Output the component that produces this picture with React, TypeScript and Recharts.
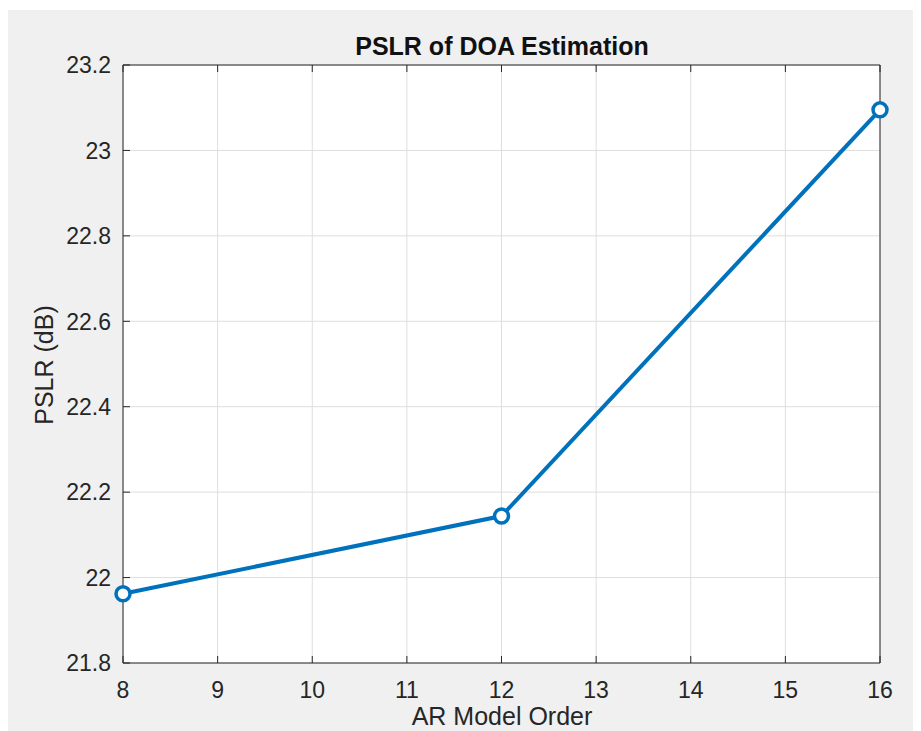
import { LineChart, Line, XAxis, YAxis, CartesianGrid } from 'recharts'

// AR model order vs PSLR (dB)
const orders = [8, 12, 16]
const pslr = [21.962, 22.144, 23.095]
const xTicks = [8, 9, 10, 11, 12, 13, 14, 15, 16]
const yTicks = [21.8, 22, 22.2, 22.4, 22.6, 22.8, 23, 23.2]

const data = orders.map((order, i) => ({ order, pslr: pslr[i] }))

const FONT = '"Liberation Sans", Arial, Helvetica, sans-serif'
const AXIS = '#262626'
const BLUE = '#0072BD'
const TICK_LEN = 7

const BottomTick = ({ x, y, payload }: any) => (
  <g>
    <line x1={x} x2={x} y1={y - 35} y2={y - 35 - TICK_LEN} stroke={AXIS} />
    <text x={x} y={y} textAnchor="middle" fill={AXIS} fontSize={23} fontFamily={FONT}>
      {payload.value}
    </text>
  </g>
)

const LeftTick = ({ x, y, payload }: any) => (
  <g>
    <line x1={x + 12} x2={x + 12 + TICK_LEN} y1={y} y2={y} stroke={AXIS} />
    <text x={x} y={y} dy="0.36em" textAnchor="end" fill={AXIS} fontSize={23} fontFamily={FONT}>
      {payload.value}
    </text>
  </g>
)

const TopTick = ({ x, y }: any) => <line x1={x} x2={x} y1={y} y2={y + TICK_LEN} stroke={AXIS} />

const RightTick = ({ x, y }: any) => <line x1={x} x2={x - TICK_LEN} y1={y} y2={y} stroke={AXIS} />

const App = () => {
  return (
    <div style={{ paddingTop: 2, background: '#fff' }}>
      <div style={{ position: 'relative', width: 913, height: 721, background: '#f0f0f0', overflow: 'hidden' }}>
        <LineChart
          width={913}
          height={721}
          data={data}
          margin={{ top: 54, right: 40, left: 15, bottom: 8 }}
        >
          <CartesianGrid stroke="#dedede" strokeWidth={1} fill="#fff" />
          <XAxis
            dataKey="order"
            type="number"
            domain={[8, 16]}
            ticks={xTicks}
            height={60}
            axisLine={{ stroke: AXIS }}
            tickLine={false}
            tickSize={0}
            tickMargin={35}
            tick={<BottomTick />}
            interval={0}
          />
          <XAxis
            xAxisId="top"
            orientation="top"
            dataKey="order"
            type="number"
            domain={[8, 16]}
            ticks={xTicks}
            height={1}
            axisLine={{ stroke: AXIS }}
            tickLine={false}
            tickSize={0}
            tickMargin={0}
            tick={<TopTick />}
            interval={0}
          />
          <YAxis
            type="number"
            domain={[21.8, 23.2]}
            ticks={yTicks}
            width={100}
            axisLine={{ stroke: AXIS }}
            tickLine={false}
            tickSize={0}
            tickMargin={12}
            tick={<LeftTick />}
            interval={0}
          />
          <YAxis
            yAxisId="right"
            orientation="right"
            type="number"
            domain={[21.8, 23.2]}
            ticks={yTicks}
            width={1}
            axisLine={{ stroke: AXIS }}
            tickLine={false}
            tickSize={0}
            tickMargin={0}
            tick={<RightTick />}
            interval={0}
          />
          <Line
            dataKey="pslr"
            type="linear"
            stroke={BLUE}
            strokeWidth={4}
            dot={{ r: 7, stroke: BLUE, strokeWidth: 3.5, fill: '#fff' }}
            activeDot={false}
            isAnimationActive={false}
          />
        </LineChart>
        <svg
          width={913}
          height={721}
          style={{ position: 'absolute', left: 0, top: 0, pointerEvents: 'none' }}
        >
          <text x={494} y={45} textAnchor="middle" fontSize={25} fontWeight="bold" fontFamily={FONT} fill="#111">
            PSLR of DOA Estimation
          </text>
          <text
            x={36}
            y={355}
            textAnchor="middle"
            dominantBaseline="central"
            transform="rotate(-90 36 355)"
            fontSize={25}
            fontFamily={FONT}
            fill={AXIS}
          >
            PSLR (dB)
          </text>
          <text x={494} y={715} textAnchor="middle" fontSize={25} fontFamily={FONT} fill={AXIS}>
            AR Model Order
          </text>
        </svg>
      </div>
    </div>
  )
}

export default App
